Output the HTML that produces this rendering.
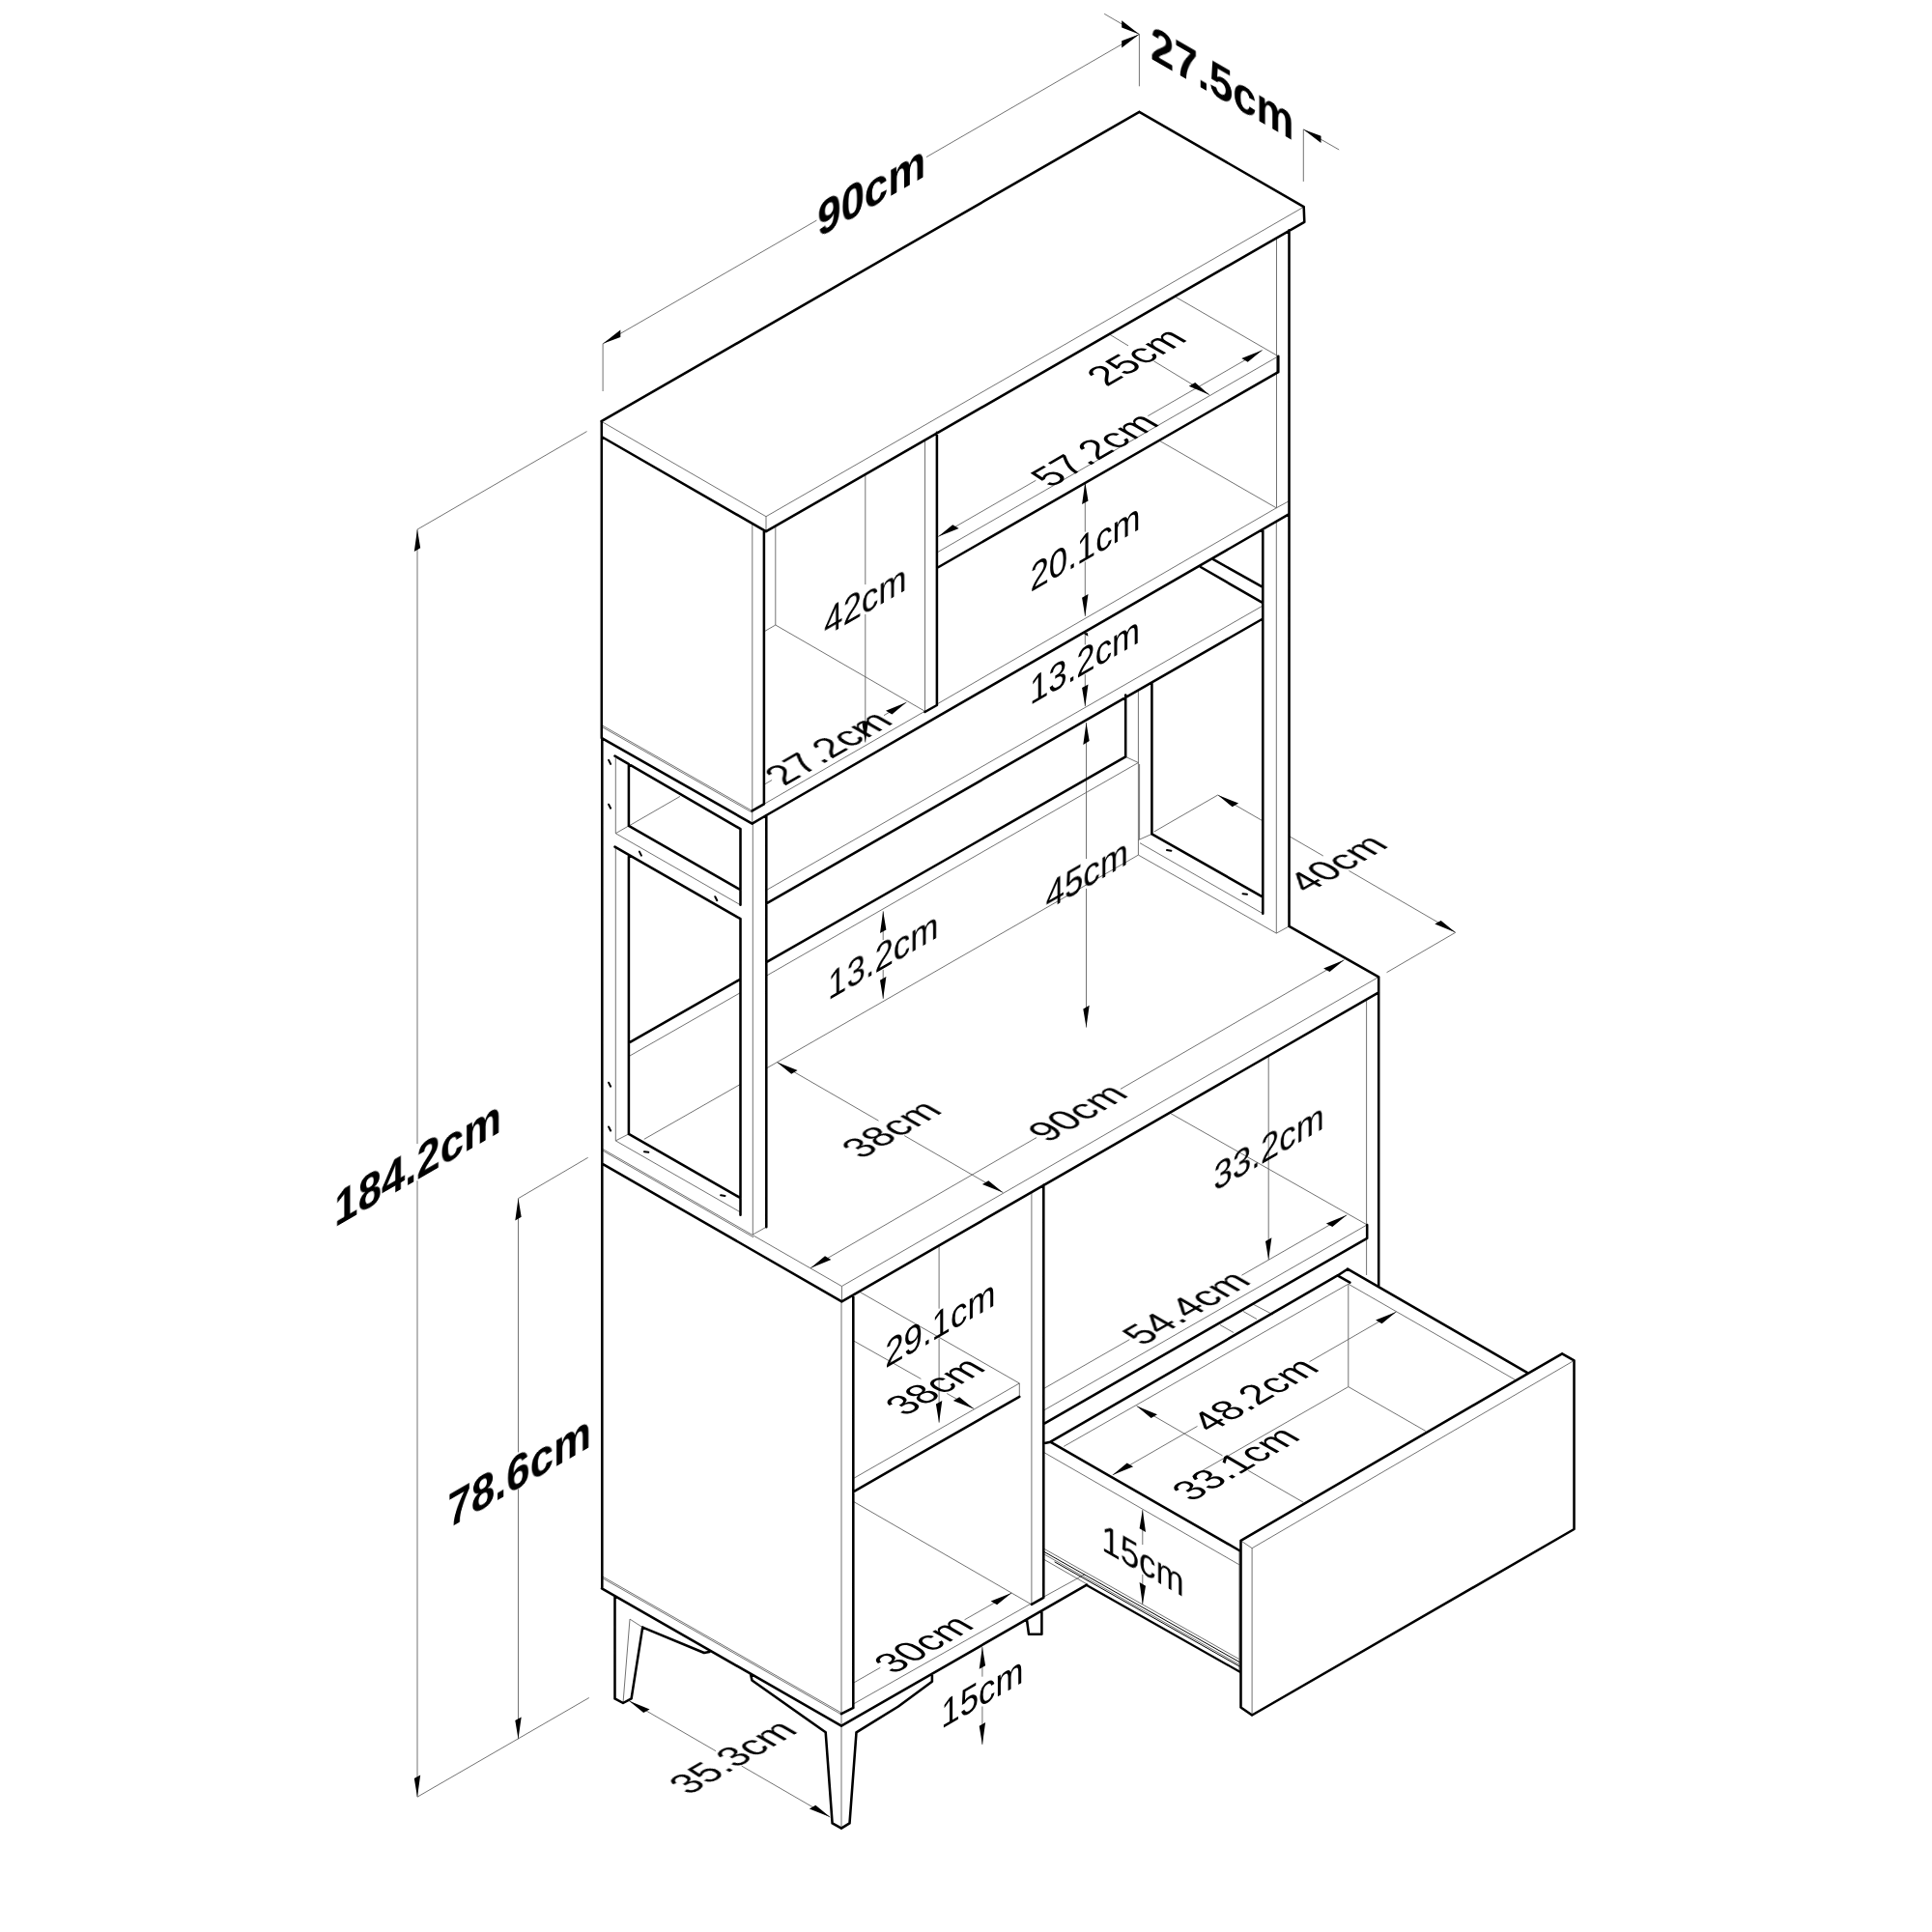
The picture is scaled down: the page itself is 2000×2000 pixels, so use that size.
<!DOCTYPE html>
<html><head><meta charset="utf-8"><title>Cabinet dimensions</title>
<style>html,body{margin:0;padding:0;background:#fff}svg{display:block}text{font-family:"Liberation Sans",sans-serif;fill:#000;text-rendering:geometricPrecision}</style></head><body>
<svg width="2000" height="2000" viewBox="0 0 2000 2000">
<rect width="2000" height="2000" fill="#fff"/>
<path d="M622.5 436.2L793 534.7M793 534.7L1349.7 214.2M793 534.7L793 550.2M778.8 542.3L778.8 852.6M802.8 544.5L802.8 647M623.3 750.9L778.6 839.4M623.3 752.6L778.6 841.1M790.9 832.4L957.5 736.2M969.9 729L1321.3 525.8M1321.3 525.8L1334.5 518.6M957.5 455L957.5 737M802.8 647L957.5 736.3M802.8 647L790.9 653.9M895.8 490.5L895.8 605.1M895.8 635.9L895.8 768.5M790.9 812.3L799.1 807.5M915 740.6L938.4 727.1M969.9 572L1323.3 368.8M1215 306.3L1323.3 368.8M1200.2 456.2L1321.3 525.8M971.2 555.5L1072.3 497.3M1188.3 430.6L1306.7 362.5M1148.4 346L1168 357.9M1194.4 373.8L1252 408.7M1123.3 499.3L1123.3 550.6M1123.3 581.4L1123.3 637.9M1123.3 655.5L1123.3 667.4M1123.3 698.2L1123.3 731.2M1124.5 748L1124.5 889.1M1124.5 919.9L1124.5 1063.6M1321.5 245L1321.5 525.8M1321.3 540L1321.3 966.1M1321.3 966.1L1334.5 958.9M793.3 921.5L1307.3 627M1178.4 714L1178.4 885.1M1179.6 791L1179.6 869M793.3 1010.2L1178.4 789.5M1165.2 783.4L1178.4 789.5M793.3 1106L1178.4 885.1M1178.4 869.6L1192.4 863.4M1180 872.7L1307.3 945.7M1178.4 885.1L1321.3 966.1M1194.7 861L1260.7 823M1260.7 823L1307.3 849.9M1334.5 865.6L1369.8 886M1396.4 901.4L1506.7 965.3M1506.7 965.3L1435.5 1006.7M637.3 785L637.3 862.7M637.3 877L637.3 1180.9M637.3 862.7L766.5 936.8M637.3 862.7L650.9 854.9M779.3 852.6L779.3 1278M779.3 1278L793.3 1270.2M651 855L704 824.4M650.9 1093.6L766.5 1027.6M666.8 1179.3L766.5 1122.4M637.3 1180.9L766.5 1254.9M637.3 1180.9L650.9 1173.9M914.2 943.3L914.2 973M914.2 1003.8L914.2 1033.9M622.5 1188.7L871.4 1331.5M871.4 1331.5L1427.2 1011.4M623 1190.6L780 1280.8M871.4 1331.5L871.4 1347.3M839 1312.7L1073 1177.6M1159.9 1127.4L1391.5 993.7M804.2 1099.4L909.5 1160.2M936.2 1175.6L1038.3 1234.6M871 1347.5L871 1892M1067.9 1233.8L1067.9 1660.8M1414.6 1035L1414.6 1320M883.3 1530.6L1055.3 1432M1055.3 1445.8L1055.3 1432M889.8 1337.3L1055.3 1432M883.3 1387.8L953.4 1427.4M980.2 1442.5L1008.3 1458.4M972.1 1289.5L972.1 1354.7M972.1 1385.5L972.1 1472.7M883.3 1554.3L1067.4 1660.7M883.4 1742.2L911.3 1726.3M998.5 1676.8L1047.2 1649.1M883.4 1764L1067.4 1660M1080.6 1653L1123 1629.8M623.3 1631.8L871 1773.1M623.3 1633.5L871 1774.8M1080.3 1460.1L1415.2 1267.9M1210.4 1151.8L1415.2 1267.9M1080.3 1437.6L1169.3 1386.7M1285.4 1320.2L1394.3 1257.8M1313.2 1093.4L1313.2 1304.1M1101.2 1497.4L1395.8 1329.2M1395.8 1329.2L1568.9 1428.6M1395.8 1329.2L1395.8 1435.6M1395.8 1435.6L1475.8 1481.4M1395.8 1435.6L1234 1528.5M1080.3 1503.3L1282.9 1619.8M1296.1 1602.7L1629.5 1408.4M1296.1 1602.7L1296.1 1775.5M1284.5 1594.9L1296.1 1602.7M1081 1603.4L1282.9 1717.6M1081 1609L1282.9 1723.2M1081 1614.5L1124.5 1639.5M1282.9 1605L1282.9 1730M1151.7 1526.9L1239.5 1476.4M1355.5 1409.7L1445.5 1357.9M1176.6 1455.5L1265.5 1506.9M1292.2 1522.3L1349.2 1555.2M1182.8 1563.1L1182.8 1599.1M1182.8 1629.9L1182.8 1660.9M1263 1371.5L1277 1379.5M1287 1357.5L1301 1365.5M1297 1350L1318 1361M652 1676.1L645 1763M652 1676.1L665.2 1684.6M1016.9 1705L1016.9 1735.7M1016.9 1766.5L1016.9 1805.9M651.2 1760.7L741.1 1812.7M767.7 1828.1L859.3 1881.1M624.1 355.8L845.4 228.1M959 162.6L1179.4 35.4M624.1 355.8L624.1 405M1179.4 35.4L1179.4 89.3M1143.2 14.3L1179.4 35.4M1349.3 133.9L1386.2 155M1349.3 133.9L1349.3 187.9M432 548.1L432 1184.1M432 1222.2L432 1860.2M607.5 446.6L432 548.1M609.8 1757.5L432 1860.2M536.5 1240.6L536.5 1503.4M536.5 1541.6L536.5 1800.2M608.7 1198.3L536.5 1240.6" fill="none" stroke="#5a5a5a" stroke-width="0.85" stroke-linecap="butt"/>
<path d="M622.5 436.2L1179.4 115.8M1179.4 115.8L1349.7 214.2M1349.7 214.2L1350.3 229.8M623.5 452.5L793 550.2M793 550.2L1350.3 229.8M622.8 436.2L622.8 764.1M790.9 549.3L790.9 832.4M623 764.1L778.6 852.6M778.6 852.6L793.3 844M778.6 839.4L790.9 832.4M793.3 844L1334.5 532.2M969.9 447.8L969.9 730M957.5 737L969.9 730M969.9 588L1323.3 385.2M1323.3 385.2L1323.3 368.8M1334.5 238.2L1334.5 958.9M1307.3 548.1L1307.3 945.7M1256.1 579.2L1307.3 607.9M1242.9 587L1307.3 624.2M793.3 935.3L1307.3 640.5M1165.2 719.4L1165.2 783.4M1192.4 707.3L1192.4 863.4M793.3 996.2L1165.2 783.4M1192.4 863.4L1307.3 928.6M623.3 764.1L623.3 1188.7M650.9 791L650.9 854.9M650.9 886.7L650.9 1173.9M636.5 782.7L766.5 858.2M650.9 854.9L766.5 921.2M636.5 876.6L766.5 951.2M766.5 858.2L766.5 936.8M766.5 951.2L766.5 1257.8M793.3 844L793.3 1270.2M650.9 1079.6L766.5 1013.6M650.9 1173.9L766.5 1240.1M623.3 1204.6L871.4 1347.3M871.4 1347.3L1427.2 1027.4M1334.5 958.9L1427.2 1011.4M1427.2 1011.4L1427.2 1331M623.3 1188.7L623.3 1644.3M883.3 1340.5L883.3 1767.9M1080.3 1226.8L1080.3 1653.8M1067.9 1660.8L1080.3 1653.8M883.3 1544.3L1055.3 1445.8M623 1644.3L871 1786.6M871 1786.6L1125 1640.7M871 1774.1L883.4 1767.9M1080.3 1474.1L1415.2 1281.8M1415.2 1281.8L1415.2 1267.9M1080.3 1494.3L1087.3 1492.7M1087.3 1492.7L1385 1320.2M1385 1320.2L1395 1313.7M1395 1313.7L1582.1 1421.6M1385 1320.6L1397.4 1327.6M1087.3 1492.7L1282.9 1605M1284.5 1594.9L1582.1 1421.6M1582.1 1421.6L1617.1 1401.4M1617.1 1401.4L1629.5 1408.4M1629.5 1408.4L1629.5 1583M1629.5 1583L1296.1 1775.5M1296.1 1775.5L1284.5 1767.5M1284.5 1767.5L1284.5 1594.9M636.5 1652.5L636.5 1758.4M636.5 1758.4L645 1763M645 1763L653.6 1758.4M653.6 1758.4L665.2 1684.6M665.2 1684.6L728.9 1711M728.9 1711L734.3 1710M734.3 1710L734 1708.5M777 1733L778.5 1739.5M778.5 1739.5L854.7 1793.3M854.7 1793.3L861.6 1887.3M861.6 1887.3L871 1892.7M871 1892.7L879.5 1887.3M879.5 1887.3L886.5 1793.3M886.5 1793.3L930 1766.5M930 1766.5L964.9 1740.7M964.9 1740.7L964.9 1734M1063 1676.8L1065 1691.8M1065 1691.8L1078.4 1691.8M1078.4 1691.8L1078.4 1668.6" fill="none" stroke="#000" stroke-width="2.55" stroke-linecap="round" stroke-linejoin="round"/>
<path d="M1124.5 1640.7L1284 1731" fill="none" stroke="#000" stroke-width="2.2" stroke-linecap="round" stroke-linejoin="round"/>
<path d="M630.1 786.9L632.1 790.9M630.1 832.7L632.1 836.7M661.9 881.6L663.9 885.6M740.3 928.2L742.3 932.2M630.1 1120.7L632.1 1124.7M630.1 1166.5L632.1 1170.5M666.9 1192.2L671.3 1192.8M746.1 1237.3L750.5 1237.9M1208 880.1L1212.4 880.7M1286.5 925.2L1290.9 925.8" fill="none" stroke="#000" stroke-width="2.0" stroke-linecap="round" stroke-linejoin="round"/>
<path d="M1081 1606.5L1283 1720.5M1092 1617L1283 1725" fill="none" stroke="#000" stroke-width="1.0" stroke-linecap="round" stroke-linejoin="round"/>
<path d="M895.8 768.5L899 745.6L892.6 749.4ZM938.4 727.1L923.4 739.5L917 735.8ZM971.2 555.5L992.6 546.9L986.2 543.2ZM1306.7 362.5L1291.7 374.8L1285.3 371.1ZM1252 408.7L1237.2 396L1230.8 399.7ZM1123.3 499.3L1126.5 518.4L1120.1 522.1ZM1123.3 637.9L1126.5 615L1120.1 618.8ZM1123.3 731.2L1126.5 708.4L1120.1 712.1ZM1120.7 655.3L1125.9 655.3L1126.4 658.7ZM1124.5 748L1127.7 767.1L1121.3 770.9ZM1124.5 1063.6L1127.7 1040.8L1121.3 1044.4ZM1260.7 823L1282.1 831.6L1275.7 835.3ZM1506.7 965.3L1491.7 952.9L1485.3 956.6ZM914.2 943.3L917.4 962.4L911 966.1ZM914.2 1033.9L917.4 1011.1L911 1014.8ZM839 1312.7L860.4 1304L854 1300.3ZM1391.5 993.7L1376.5 1006.1L1370.1 1002.4ZM804.2 1099.4L825.6 1108.1L819.2 1111.8ZM1038.3 1234.6L1023.3 1222.2L1016.9 1225.9ZM1008.3 1458.4L993.2 1446.2L986.8 1449.9ZM972.1 1472.7L975.3 1449.9L968.9 1453.5ZM1047.2 1649.1L1032.1 1661.3L1025.7 1657.6ZM1394.3 1257.8L1379.3 1270.1L1372.9 1266.4ZM1313.2 1304.1L1316.4 1281.2L1310 1284.9ZM1151.7 1526.9L1173.1 1518.3L1166.7 1514.6ZM1445.5 1357.9L1430.5 1370.2L1424.1 1366.5ZM1176.6 1455.5L1198 1464.2L1191.6 1467.9ZM1182.8 1563.1L1186 1585.9L1179.6 1582.2ZM1182.8 1660.9L1186 1641.8L1179.6 1638.1ZM1016.9 1705L1020.1 1724.2L1013.7 1727.8ZM1016.9 1805.9L1020.1 1783.1L1013.7 1786.8ZM651.2 1760.7L672.6 1769.4L666.2 1773.1ZM859.3 1881.1L844.3 1868.7L837.9 1872.4ZM624.1 355.8L642.3 349L642.3 341.6ZM1179.4 35.4L1161.2 49.6L1161.2 42.2ZM1179.4 35.4L1161.2 28.6L1161.2 21.2ZM1349.3 133.9L1367.5 148.1L1367.5 140.7ZM432 548.1L435.2 567.2L428.8 571ZM432 1860.2L435.2 1837.4L428.8 1841ZM536.5 1240.6L539.7 1259.8L533.3 1263.4ZM536.5 1800.2L539.7 1777.4L533.3 1781Z" fill="#000" stroke="none"/>
<g opacity="0.999">
<text transform="matrix(0.8660 -0.5000 0.0000 1.0000 902.2 214.3)" font-size="50.5" text-anchor="middle" font-weight="bold">90cm</text>
<text transform="matrix(0.8660 0.5000 0.0000 1.0000 1265.3 103.3)" font-size="50.5" text-anchor="middle" font-weight="bold">27.5cm</text>
<text transform="matrix(0.8660 -0.5000 0.0000 1.0000 432.6 1220.9)" font-size="50.5" text-anchor="middle" font-weight="bold">184.2cm</text>
<text transform="matrix(0.8660 -0.5000 0.0000 1.0000 537.7 1539.9)" font-size="50.5" text-anchor="middle" font-weight="bold">78.6cm</text>
<text transform="matrix(0.8660 -0.5000 0.8660 0.5000 1188.1 376.3)" font-size="40.2" text-anchor="middle">25cm</text>
<text transform="matrix(0.8660 -0.5000 0.8660 0.5000 1144.8 472.3)" font-size="40.2" text-anchor="middle">57.2cm</text>
<text transform="matrix(0.8660 -0.5000 0.8660 0.5000 869.1 781)" font-size="40.2" text-anchor="middle">27.2cm</text>
<text transform="matrix(0.8660 -0.5000 0.8660 0.5000 1396.3 900.5)" font-size="40.2" text-anchor="middle">40cm</text>
<text transform="matrix(0.8660 -0.5000 0.8660 0.5000 934.5 1175.6)" font-size="40.2" text-anchor="middle">38cm</text>
<text transform="matrix(0.8660 -0.5000 0.8660 0.5000 1127.2 1158.7)" font-size="40.2" text-anchor="middle">90cm</text>
<text transform="matrix(0.8660 -0.5000 0.8660 0.5000 979.6 1442)" font-size="40.2" text-anchor="middle">38cm</text>
<text transform="matrix(0.8660 -0.5000 0.8660 0.5000 1239.8 1360.6)" font-size="40.2" text-anchor="middle">54.4cm</text>
<text transform="matrix(0.8660 -0.5000 0.8660 0.5000 1310.6 1450.6)" font-size="40.2" text-anchor="middle">48.2cm</text>
<text transform="matrix(0.8660 -0.5000 0.8660 0.5000 1290.9 1522)" font-size="40.2" text-anchor="middle">33.1cm</text>
<text transform="matrix(0.8660 -0.5000 0.8660 0.5000 770.4 1825.6)" font-size="40.2" text-anchor="middle">35.3cm</text>
<text transform="matrix(0.8660 -0.5000 0.8660 0.5000 967.7 1708.9)" font-size="40.2" text-anchor="middle">30cm</text>
<text transform="matrix(0.8660 -0.5000 0.0000 1.0000 895.8 634.9)" font-size="40.2" text-anchor="middle">42cm</text>
<text transform="matrix(0.8660 -0.5000 0.0000 1.0000 1123.5 580.3)" font-size="40.2" text-anchor="middle">20.1cm</text>
<text transform="matrix(0.8660 -0.5000 0.0000 1.0000 1123 697.4)" font-size="40.2" text-anchor="middle">13.2cm</text>
<text transform="matrix(0.8660 -0.5000 0.0000 1.0000 1125.2 918.5)" font-size="40.2" text-anchor="middle">45cm</text>
<text transform="matrix(0.8660 -0.5000 0.0000 1.0000 914.2 1002.8)" font-size="40.2" text-anchor="middle">13.2cm</text>
<text transform="matrix(0.8660 -0.5000 0.0000 1.0000 1313.6 1200.7)" font-size="40.2" text-anchor="middle">33.2cm</text>
<text transform="matrix(0.8660 -0.5000 0.0000 1.0000 973.3 1383.8)" font-size="40.2" text-anchor="middle">29.1cm</text>
<text transform="matrix(0.8660 -0.5000 0.0000 1.0000 1016.9 1765.5)" font-size="40.2" text-anchor="middle">15cm</text>
<text transform="matrix(0.8660 0.5000 0.0000 1.0000 1183 1629)" font-size="40.2" text-anchor="middle">15cm</text>
</g>
</svg></body></html>
